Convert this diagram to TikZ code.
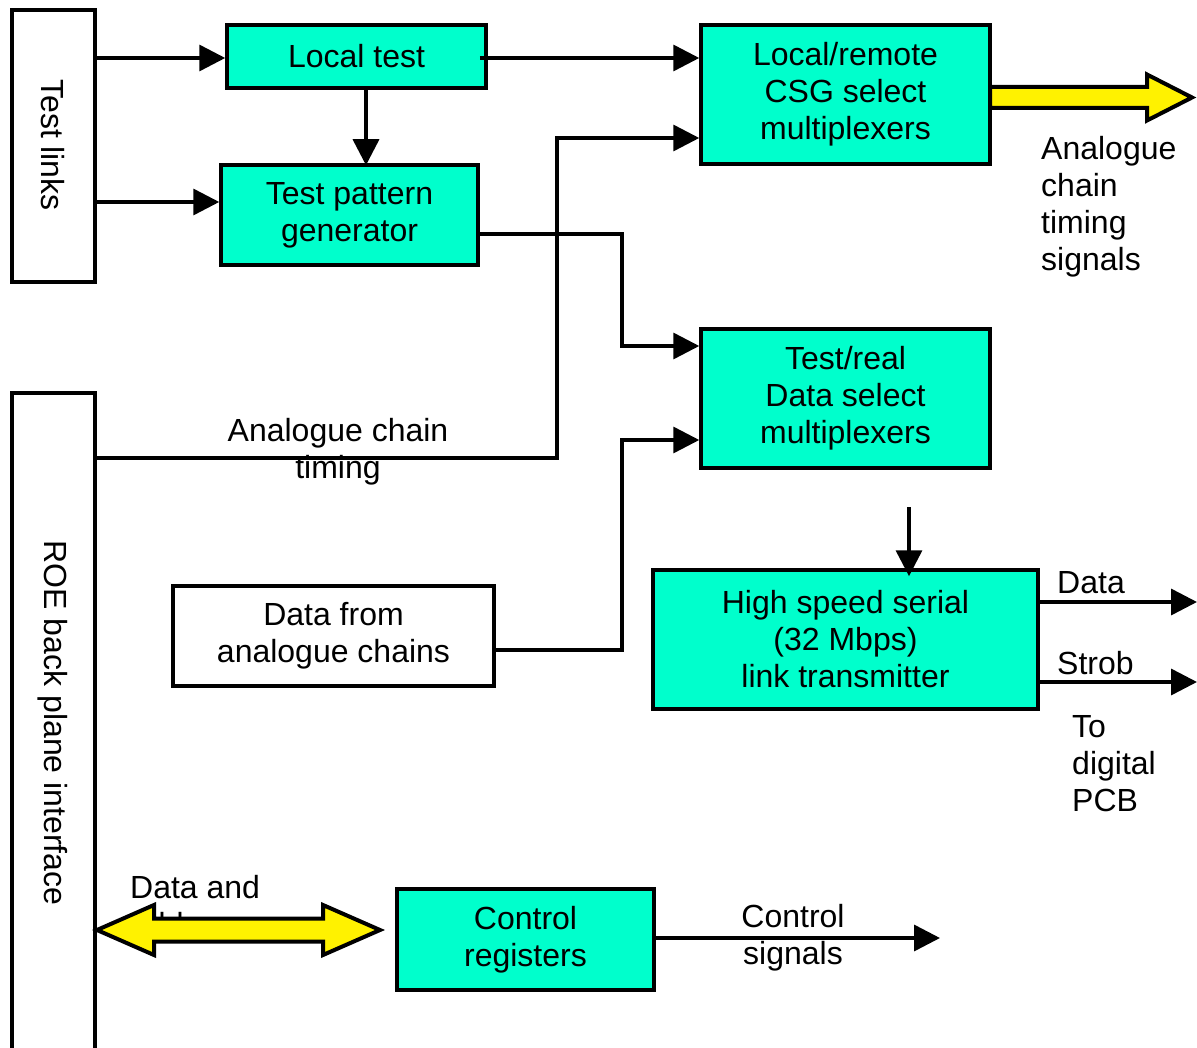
\documentclass[tikz,border=0pt]{standalone}
\usepackage{fontspec}
\setmainfont{Liberation Sans}
\usetikzlibrary{arrows.meta}

\definecolor{mint}{RGB}{0,255,204}

\begin{document}
\begin{tikzpicture}[
    x=1pt,
    y=-1pt,
    line join=miter,
    font=\fontsize{32}{37}\selectfont,
    box/.style={
        draw=black,
        line width=3.5pt,
        fill=mint,
        align=center,
        inner sep=0pt
    },
    plainbox/.style={
        draw=black,
        line width=3.5pt,
        fill=white,
        align=center,
        inner sep=0pt
    },
    link/.style={
        draw=black,
        line width=3.5pt,
        -{Triangle[length=26pt,width=26pt]}
    },
    fatarrow/.style={
        draw=black,
        line width=4pt,
        fill=yellow
    },
    lbl/.style={
        align=left,
        inner sep=0pt
    }
]

\useasboundingbox (0,0) rectangle (1197,1048);

% -------------------------------------------------
% Interfaces on the left
% -------------------------------------------------

\node[plainbox, minimum width=83pt, minimum height=272pt] (testlinks) at (53.5,146) {};
\node[rotate=-90] (testlinkstext) at (53,145) {Test links};

\node[plainbox, minimum width=83pt, minimum height=700pt] (roe) at (53.5,743) {};
\node[rotate=-90] (roetext) at (53,723) {ROE back plane interface};

% -------------------------------------------------
% Blocks
% -------------------------------------------------

\node[box, minimum width=259pt, minimum height=63pt] (localtest) at (356.5,56.5) {Local test};
\node[box, minimum width=257pt, minimum height=100pt] (tpg) at (349.5,215) {Test pattern\\generator};

\node[box, minimum width=289pt, minimum height=139pt] (csg) at (845.5,94.5)
    {Local/remote\\CSG select\\multiplexers};
\node[box, minimum width=289pt, minimum height=139pt] (tdsel) at (845.5,398.5)
    {Test/real\\Data select\\multiplexers};

\node[plainbox, minimum width=321pt, minimum height=100pt] (datafrom) at (333.5,636)
    {Data from\\analogue chains};
\node[box, minimum width=385pt, minimum height=139pt] (hss) at (845.5,639.5)
    {High speed serial\\(32 Mbps)\\link transmitter};

\node[box, minimum width=257pt, minimum height=101pt] (ctrl) at (525.5,939.5)
    {Control\\registers};

% -------------------------------------------------
% Connection points
% -------------------------------------------------

\coordinate (tpgin) at ([yshift=13pt]tpg.west);
\coordinate (tpgout) at ([yshift=-19pt]tpg.east);
\coordinate (csgin2) at ([yshift=-43.5pt]csg.west);
\coordinate (tdselin1) at ([yshift=52.5pt]tdsel.west);
\coordinate (tdselin2) at ([yshift=-41.5pt]tdsel.west);
\coordinate (roeout) at (roe.east |- 0,458);
\coordinate (datafromout) at ([yshift=-14pt]datafrom.east);
\coordinate (hssfeed) at (909,507);
\coordinate (dataout) at (1197,602);
\coordinate (strobout) at (1197,682);
\coordinate (ctrlout) at (940,938);

% -------------------------------------------------
% Links
% -------------------------------------------------

\draw[link] (testlinks.east |- 0,58) -- (localtest.west |- 0,58);
\draw[link] (testlinks.east |- tpgin) -- (tpgin);

\draw[link] ([xshift=-8pt]localtest.east |- 0,58) -- (csg.west |- 0,58);
\draw[link] ([xshift=9.5pt]localtest.south) -- ([xshift=9.5pt,yshift=-2pt]localtest.south |- tpg.north);

\draw[link] (tpgout) -| (tdselin1 -| 622,0) -- (tdselin1);
\draw[link] (roeout) -| (csgin2 -| 557,0) -- (csgin2);
\draw[link] (datafromout) -| (tdselin2 -| 622,0) -- (tdselin2);

\draw[link] (hssfeed) -- ([xshift=63.5pt,yshift=-8pt]hss.north);
\draw[link] (hss.east |- dataout) -- (dataout);
\draw[link] (hss.east |- strobout) -- (strobout);

\draw[link] (ctrl.east |- ctrlout) -- (ctrlout);

% -------------------------------------------------
% Labels
% -------------------------------------------------

\node[align=center, inner sep=0pt] (timinglbl) at (338,452) {Analogue chain\\timing};
\node[lbl, anchor=west] (signalslbl) at (1041,207) {Analogue\\chain\\timing\\signals};
\node[lbl, anchor=west] (datalbl) at (1057,583) {Data};
\node[lbl, anchor=west] (stroblbl) at (1057,663) {Strob};
\node[lbl, anchor=west] (pcblbl) at (1072,764) {To\\digital\\PCB};
\node[lbl, anchor=west] (addrlbl) at (130,906) {Data and\\address};
\node[align=center, inner sep=0pt] (ctrllbl) at (793,938) {Control\\signals};

% -------------------------------------------------
% Wide arrows
% -------------------------------------------------

\path[fatarrow]
    (990,87) -- (1147,87) -- (1147,74.5) -- (1192,97.5)
    -- (1147,120.5) -- (1147,108) -- (990,108) -- cycle;

\path[fatarrow]
    (97,930) -- (154,905) -- (154,918.5) -- (323,918.5) -- (323,905)
    -- (380,930) -- (323,955) -- (323,941.5) -- (154,941.5) -- (154,955) -- cycle;

\end{tikzpicture}
\end{document}
